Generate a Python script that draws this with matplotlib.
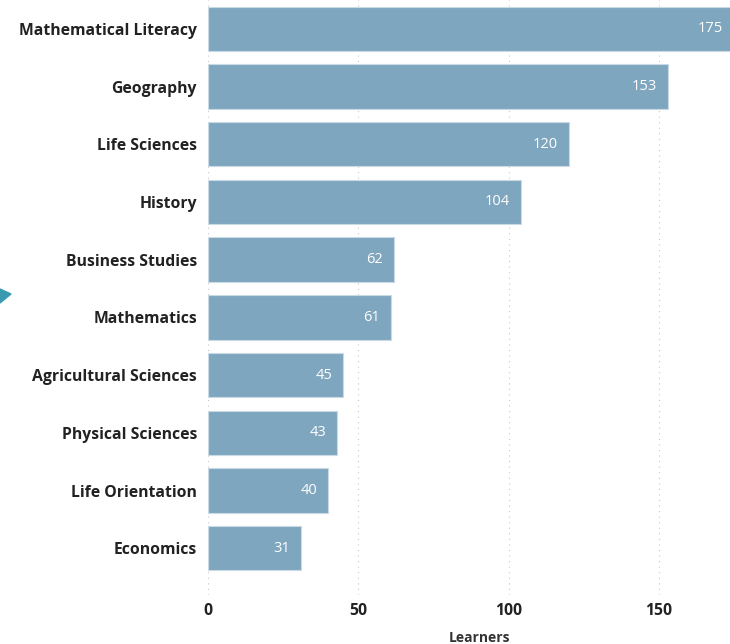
import matplotlib
matplotlib.use("Agg")
import matplotlib.pyplot as plt
from matplotlib.patches import Polygon

subjects = ["Mathematical Literacy", "Geography", "Life Sciences", "History",
            "Business Studies", "Mathematics", "Agricultural Sciences",
            "Physical Sciences", "Life Orientation", "Economics"]
learners = [175, 153, 120, 104, 62, 61, 45, 43, 40, 31]
xticks = [0, 50, 100, 150]

plt.rcParams['font.family'] = ['Open Sans', 'DejaVu Sans']

fig = plt.figure(figsize=(7.3, 6.44), dpi=100)
ax = fig.add_axes([208 / 730, 49 / 644, 522 / 730, 595 / 644])

y = list(range(len(subjects)))
ax.barh(y, learners, height=0.77, color="#7fa6bf", edgecolor="#c9dae5",
        linewidth=0.8, zorder=2)

for yi, v in zip(y, learners):
    ax.annotate(str(v), xy=(v, yi), xytext=(-8, 0),
                textcoords="offset points", ha="right", va="center",
                color="white", fontsize=10.5, zorder=3, annotation_clip=False)

ax.set_xlim(0, 173.6)
ax.set_ylim(9.81, -0.5)
ax.set_yticks(y)
ax.set_yticklabels(subjects, fontsize=11.3, fontweight="bold", color="#222222")
ax.set_xticks(xticks)
ax.set_xticklabels([str(t) for t in xticks], fontsize=11.3, fontweight="bold",
                   color="#222222")
ax.tick_params(length=0, axis="y", pad=8)
ax.tick_params(length=0, axis="x", pad=6)
ax.set_xlabel("Learners", fontsize=10, fontweight="bold", color="#333333")
ax.xaxis.set_label_coords(0.52, -0.06)

ax.grid(axis="x", color="#c8c8c8", linestyle=(0, (1, 4)), linewidth=0.8, zorder=0)
for s in ax.spines.values():
    s.set_visible(False)

# small teal marker at the left edge
fig.patches.append(Polygon([[0, 1 - 289 / 644], [11 / 730, 1 - 294 / 644],
                            [0, 1 - 303 / 644]], closed=True,
                           transform=fig.transFigure, color="#3a9bb0"))

fig.savefig("out.png", dpi=100)
